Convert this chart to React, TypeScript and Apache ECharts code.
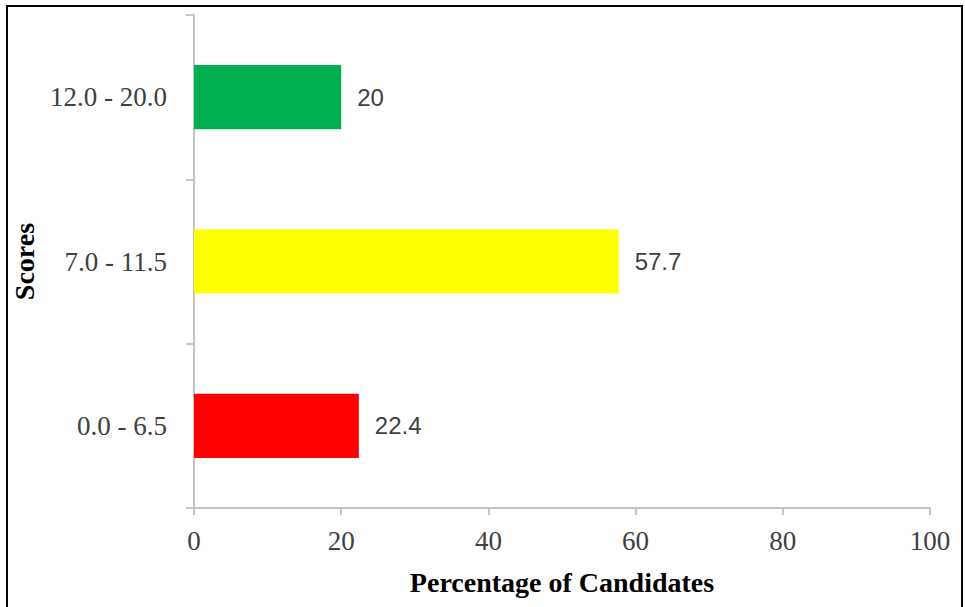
import React, { useEffect, useRef } from "react";
import * as echarts from "echarts";

const categories = ["0.0 - 6.5", "7.0 - 11.5", "12.0 - 20.0"];
const values = [22.4, 57.7, 20];
const barColors = ["#ff0000", "#ffff00", "#00b050"];
const xTicks = [0, 20, 40, 60, 80, 100];

export default function App() {
  const ref = useRef<HTMLDivElement>(null);
  useEffect(() => {
    document.body.style.margin = "0";
    const chart = echarts.init(ref.current!, null, { renderer: "svg" });
    chart.setOption({
      animation: false,
      backgroundColor: "#ffffff",
      graphic: [
        {
          type: "rect",
          shape: { x: 7, y: 6, width: 955, height: 640 },
          style: { fill: "none", stroke: "#000000", lineWidth: 2 },
          silent: true,
        },
      ],
      grid: { left: 194, right: 35, top: 15, bottom: 99 },
      xAxis: {
        type: "value",
        min: xTicks[0],
        max: xTicks[xTicks.length - 1],
        interval: 20,
        name: "Percentage of Candidates",
        nameLocation: "middle",
        nameGap: 60,
        nameTextStyle: {
          fontFamily: "Liberation Serif",
          fontWeight: "bold",
          fontSize: 28,
          color: "#000000",
        },
        axisLine: { show: true, lineStyle: { color: "#c4c4c4", width: 2 } },
        axisTick: { show: true, length: 7, lineStyle: { color: "#c4c4c4", width: 2 } },
        axisLabel: {
          fontFamily: "Liberation Serif",
          fontSize: 27,
          color: "#404040",
          margin: 19,
        },
        splitLine: { show: false },
      },
      yAxis: {
        type: "category",
        data: categories,
        name: "Scores",
        nameLocation: "middle",
        nameGap: 156,
        nameRotate: 90,
        nameTextStyle: {
          fontFamily: "Liberation Serif",
          fontWeight: "bold",
          fontSize: 28,
          color: "#000000",
        },
        axisLine: { show: true, lineStyle: { color: "#c4c4c4", width: 2 } },
        axisTick: { show: true, length: 8, lineStyle: { color: "#c4c4c4", width: 2 } },
        axisLabel: {
          fontFamily: "Liberation Serif",
          fontSize: 27,
          color: "#404040",
          margin: 27,
        },
      },
      series: [
        {
          type: "bar",
          barWidth: "39%",
          data: values.map((v, i) => ({ value: v, itemStyle: { color: barColors[i] } })),
          label: {
            show: true,
            position: "right",
            distance: 16,
            fontFamily: "Liberation Sans",
            fontSize: 24,
            color: "#404040",
          },
        },
      ],
    });
    return () => chart.dispose();
  }, []);
  return (
    <div
      ref={ref}
      style={{ position: "absolute", left: 0, top: 0, width: 965, height: 607 }}
    />
  );
}
